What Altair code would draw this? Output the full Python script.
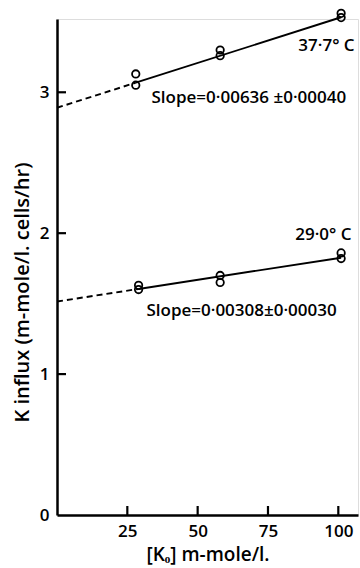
import altair as alt
import pandas as pd

# ---- data ----
k_upper = [28, 28, 58, 58, 101, 101]
flux_upper = [3.13, 3.05, 3.30, 3.26, 3.56, 3.53]
k_lower = [29, 29, 58, 58, 101, 101]
flux_lower = [1.63, 1.60, 1.70, 1.65, 1.86, 1.82]

series = ["37.7", "29.0"]
temp_labels = ["37·7° C", "29·0° C"]
slope_labels = ["Slope=0·00636 ±0·00040", "Slope=0·00308±0·00030"]
slopes = [0.00636, 0.00308]
intercepts = [2.89, 1.515]
fit_start = [28, 29]
fit_end = [101, 101]

x_ticks = [25, 50, 75, 100]
y_ticks = [0, 1, 2, 3]

FONT = "Open Sans"
FS = 17
FW = 600
X_MAX, Y_MAX = 107, 3.52
TICK_X_LEN = X_MAX * 9 / 301   # tick length expressed in data units
TICK_Y_LEN = Y_MAX * 9 / 496

pts = pd.DataFrame(
    {"k": k_upper + k_lower,
     "flux": flux_upper + flux_lower,
     "s": [series[0]] * len(k_upper) + [series[1]] * len(k_lower)}
)

solid_rows, dash_rows = [], []
for s, m, b, x0, x1 in zip(series, slopes, intercepts, fit_start, fit_end):
    for x in (x0, x1):
        solid_rows.append({"s": s, "k": x, "flux": b + m * x})
    for x in (0, x0):
        dash_rows.append({"s": s, "k": x, "flux": b + m * x})
solid = pd.DataFrame(solid_rows)
dash = pd.DataFrame(dash_rows)

temp_df = pd.DataFrame({"t": temp_labels, "k": [105.8, 104.7], "flux": [3.33, 1.99]})
slope_df = pd.DataFrame({"t": slope_labels, "k": [33.6, 31.8], "flux": [2.96, 1.45]})

# inward tick segments, as ranged rules
ytick_df = pd.DataFrame({"k": [0.0] * 3, "k2": [TICK_X_LEN] * 3,
                         "flux": [float(v) for v in y_ticks[1:]]})
xtick_df = pd.DataFrame({"k": [float(v) for v in x_ticks], "flux": [0.0] * 4,
                         "flux2": [TICK_Y_LEN] * 4})

xs = alt.Scale(domain=[0, X_MAX], nice=False, zero=False)
ys = alt.Scale(domain=[0, Y_MAX], nice=False, zero=False)

common = dict(ticks=False, grid=False, labelFontSize=FS,
              labelFontWeight=FW, titleFontWeight=FW, labelFont=FONT, titleFont=FONT,
              domainWidth=2.5, domainColor="black", labelColor="black", titleColor="black")
xaxis = alt.Axis(values=x_ticks, title="[Kₒ] m-mole/l.", format="d", labelPadding=8,
                 titleFontSize=19, titleY=45, titleBaseline="alphabetic", **common)
yaxis = alt.Axis(values=y_ticks, title="K influx (m-mole/l. cells/hr)", format="d",
                 labelPadding=8, titleFontSize=20, titleAngle=270, titleX=-35, titleY=273,
                 titleAlign="center", titleBaseline="middle", **common)

X = alt.X("k:Q", scale=xs, axis=xaxis)
Y = alt.Y("flux:Q", scale=ys, axis=yaxis)

yt = alt.Chart(ytick_df).mark_rule(color="black", strokeWidth=2.2).encode(
    x=X, x2="k2", y=Y)
xt = alt.Chart(xtick_df).mark_rule(color="black", strokeWidth=2.2).encode(
    x=X, y=Y, y2="flux2")

solid_l = alt.Chart(solid).mark_line(color="black", strokeWidth=1.9).encode(
    x=X, y=Y, detail="s:N")
dash_l = alt.Chart(dash).mark_line(color="black", strokeWidth=1.9, strokeDash=[6, 4]).encode(
    x=X, y=Y, detail="s:N")
points = alt.Chart(pts).mark_point(shape="circle", filled=False, color="black",
                                   size=55, strokeWidth=1.8, opacity=1).encode(x=X, y=Y)

temp_t = alt.Chart(temp_df).mark_text(align="right", baseline="middle", fontSize=FS,
                                      fontWeight=FW, font=FONT, color="black").encode(
    x=X, y=Y, text="t:N")
slope_t = alt.Chart(slope_df).mark_text(align="left", baseline="middle", fontSize=FS,
                                        fontWeight=FW, font=FONT, color="black").encode(
    x=X, y=Y, text="t:N")

chart = alt.layer(yt, xt, solid_l, dash_l, points, temp_t, slope_t).properties(
    width=301, height=496,
    autosize=alt.AutoSizeParams(type="none"),
    padding={"left": 57, "top": 19, "right": 2, "bottom": 53},
    background="white",
).configure_view(stroke=None).configure(font=FONT)

chart.save("out.html", embed_options={"renderer": "svg", "actions": False})
